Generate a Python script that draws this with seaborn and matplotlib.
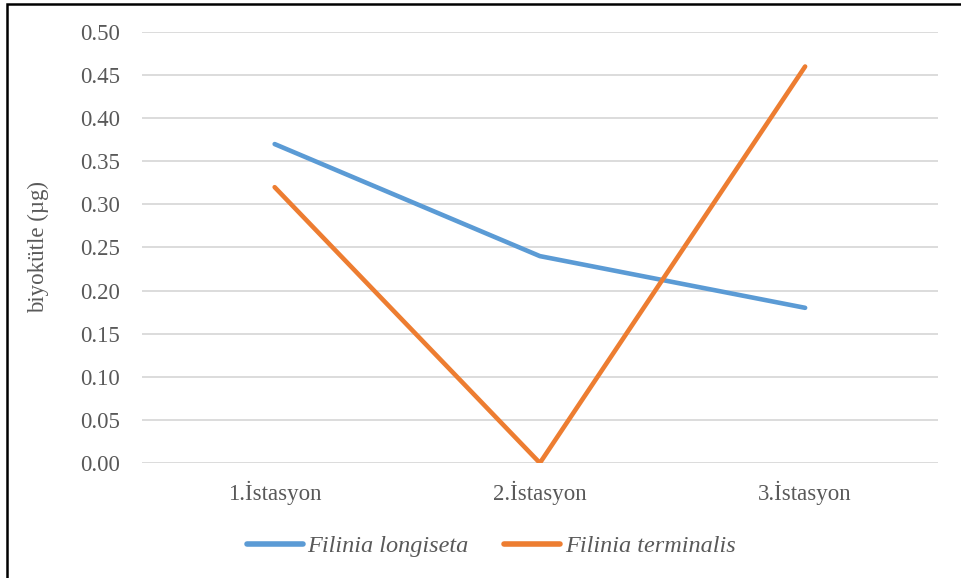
import matplotlib
matplotlib.use("Agg")
import matplotlib.pyplot as plt
import matplotlib.patches as mpatches
import pandas as pd
import seaborn as sns

stations = ["1.İstasyon", "2.İstasyon", "3.İstasyon"]
longiseta = [0.37, 0.24, 0.18]
terminalis = [0.32, 0.00, 0.46]
species = ["Filinia longiseta", "Filinia terminalis"]

data = pd.DataFrame({
    "istasyon": stations * 2,
    "biyokutle": longiseta + terminalis,
    "tur": [species[0]] * 3 + [species[1]] * 3,
})

sns.set_style("white")
plt.rcParams["font.family"] = ["Liberation Serif", "DejaVu Serif"]
text_col = "#595959"

fig = plt.figure(figsize=(9.61, 5.78), dpi=100)
ax = fig.add_axes([0.1478, 0.199, 0.828, 0.7456])

sns.lineplot(data=data, x="istasyon", y="biyokutle", hue="tur",
             palette=["#5B9BD5", "#ED7D31"], linewidth=3.3, ax=ax,
             solid_capstyle="round", legend=True)

ax.set_xlim(-0.5, 2.5)
ax.set_ylim(0, 0.5)
ax.set_yticks([i * 0.05 for i in range(11)])
ax.set_yticklabels([f"{i * 0.05:.2f}" for i in range(11)])
ax.yaxis.grid(True, color="#D9D9D9", linewidth=1.3)
ax.set_axisbelow(True)
for s in ax.spines.values():
    s.set_visible(False)
ax.tick_params(axis="both", length=0, labelsize=16.5, colors=text_col)
ax.tick_params(axis="y", pad=16)
ax.tick_params(axis="x", pad=13)
ax.set_xlabel("")
ax.set_ylabel("biyokütle (µg)", fontsize=16.5, color=text_col, labelpad=22)

leg = ax.legend(loc="upper center", bbox_to_anchor=(0.511, 0.112),
                bbox_transform=fig.transFigure, ncol=2,
                frameon=False, fontsize=17.5, handlelength=2.3,
                handletextpad=0.2, columnspacing=1.45)
for t in leg.get_texts():
    t.set_color(text_col)
    t.set_style("italic")
for h in leg.get_lines():
    h.set_linewidth(4)
    h.set_solid_capstyle("round")

fig.add_artist(mpatches.Rectangle((7 / 961, -0.1), 1.0, 1.1 - 4 / 578,
                                  transform=fig.transFigure, fill=False,
                                  edgecolor="black", linewidth=1.8))

fig.savefig("out.png", dpi=100)
